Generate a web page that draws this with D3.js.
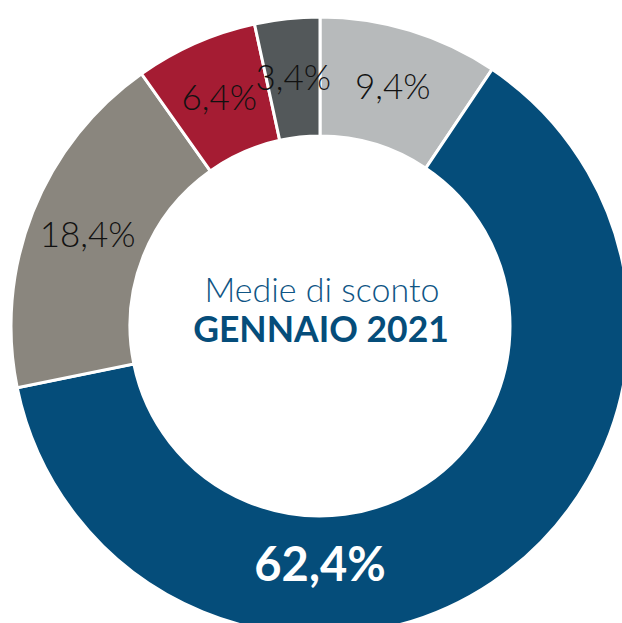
<!DOCTYPE html>
<html>
<head>
<meta charset="utf-8">
<script src="https://cdn.jsdelivr.net/npm/d3@7"></script>
<style>
  html, body { margin: 0; padding: 0; background: #fff; }
  svg { display: block; font-family: Lato, "Open Sans", sans-serif; }
</style>
</head>
<body>
<div id="chart"></div>
<script>
// slices, clockwise from 12 o'clock
const labels = ['9,4%', '62,4%', '18,4%', '6,4%', '3,4%'];
const values = [9.4, 62.4, 18.4, 6.4, 3.4];
const colors = ['#b7babb', '#054d7a', '#8a867e', '#a51c33', '#53585a'];
const titleLines = ['Medie di sconto', 'GENNAIO 2021'];

const width = 622;
const height = 623;
const cx = 320, cy = 326;
const outerR = 309, innerR = 190;

const svg = d3.select('#chart')
  .append('svg')
  .attr('width', width)
  .attr('height', height);

const g = svg.append('g').attr('transform', `translate(${cx},${cy})`);

const pie = d3.pie().sort(null).value((d) => d.value);
const slices = pie(values.map((v, i) => ({ value: v, label: labels[i], color: colors[i] })));

const arc = d3.arc().innerRadius(innerR).outerRadius(outerR);
const labelArc = d3.arc().innerRadius(250).outerRadius(250);

g.selectAll('path')
  .data(slices)
  .join('path')
  .attr('d', arc)
  .attr('fill', (d) => d.data.color)
  .attr('stroke', '#fff')
  .attr('stroke-width', 3);

const maxVal = d3.max(values);

g.selectAll('text.lbl')
  .data(slices)
  .join('text')
  .attr('class', 'lbl')
  .attr('transform', (d) => {
    // the big slice gets its label straight below the hole
    if (d.data.value === maxVal) return `translate(${d3.pointRadial(Math.PI, 238)})`;
    return `translate(${labelArc.centroid(d)})`;
  })
  .attr('text-anchor', 'middle')
  .attr('dy', '0.36em')
  .attr('fill', (d) => d.data.value === maxVal ? '#fff' : '#111')
  .style('font-size', (d) => d.data.value === maxVal ? '47px' : '35px')
  .style('font-weight', (d) => d.data.value === maxVal ? 700 : 300)
  .text((d) => d.data.label);

// centre title
svg.append('text')
  .attr('x', 322).attr('y', 302)
  .attr('text-anchor', 'middle')
  .attr('fill', '#0f5585')
  .style('font-size', '34px')
  .style('font-weight', 300)
  .text(titleLines[0]);

svg.append('text')
  .attr('x', 321).attr('y', 342)
  .attr('text-anchor', 'middle')
  .attr('fill', '#054d7a')
  .style('font-size', '35.5px')
  .style('font-weight', 700)
  .text(titleLines[1]);
</script>
</body>
</html>
